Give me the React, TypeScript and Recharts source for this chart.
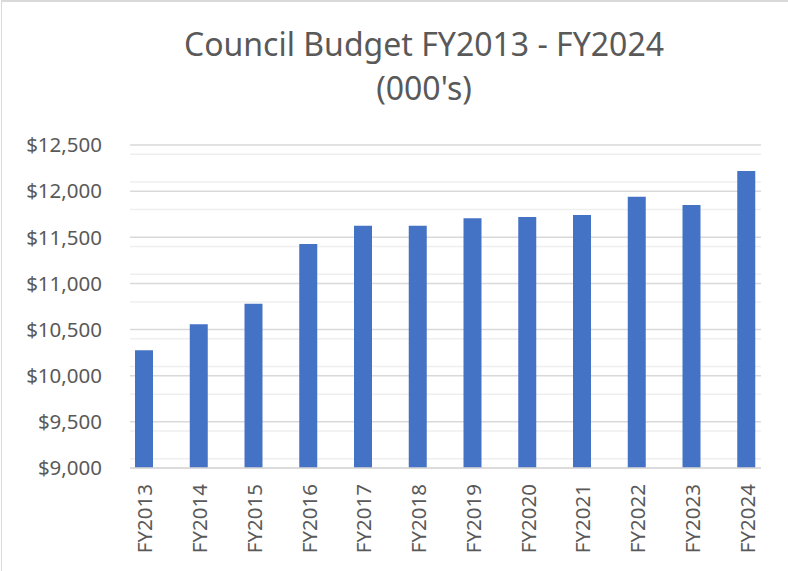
import React from "react";
import { BarChart, Bar, XAxis, YAxis, CartesianGrid } from "recharts";

const categories = ["FY2013", "FY2014", "FY2015", "FY2016", "FY2017", "FY2018", "FY2019", "FY2020", "FY2021", "FY2022", "FY2023", "FY2024"];
const budget = [10276, 10558, 10780, 11426, 11625, 11625, 11705, 11719, 11741, 11940, 11849, 12218];
const majorTicks = [9000, 9500, 10000, 10500, 11000, 11500, 12000, 12500];
const minorTicks = [9100, 9200, 9300, 9400, 9600, 9700, 9800, 9900, 10100, 10200, 10300, 10400, 10600, 10700, 10800, 10900, 11100, 11200, 11300, 11400, 11600, 11700, 11800, 11900, 12100, 12200, 12300, 12400];

const data = categories.map((c, i) => ({ name: c, value: budget[i] }));

const FONT = "'Noto Sans', 'Open Sans', sans-serif";
const TEXT = "#595959";

const fmt = (v: number) => "$" + v.toLocaleString("en-US");

const XTick = (props: any) => {
  const { x, y, payload } = props;
  const ty = y + 8;
  return (
    <text
      x={x}
      y={ty}
      transform={`rotate(-90 ${x} ${ty})`}
      textAnchor="end"
      dominantBaseline="central"
      fill={TEXT}
      fontSize={20.5}
      fontFamily={FONT}
    >
      {payload.value}
    </text>
  );
};

export default function App() {
  return (
    <div style={{ position: "absolute", left: 0, top: 0, width: 788, height: 571, background: "#fff", overflow: "hidden" }}>
      <div style={{ position: "absolute", left: 1, top: 0, width: 787, height: 571, borderTop: "2px solid #d9d9d9", borderLeft: "1px solid #d9d9d9", boxSizing: "border-box" }} />
      <div style={{ position: "absolute", left: 0, top: 22, width: 848, textAlign: "center", fontFamily: FONT, fontSize: 32, color: TEXT, lineHeight: "44px" }}>
        Council Budget FY2013 - FY2024
        <br />
        (000's)
      </div>
      <div style={{ position: "absolute", left: 0, top: 0 }}>
        <BarChart width={788} height={571} data={data} margin={{ top: 145, right: 27, bottom: 0, left: 0 }}>
          <CartesianGrid horizontal={true} vertical={false} stroke="#efefef" strokeWidth={1.5} horizontalValues={minorTicks} />
          <CartesianGrid horizontal={true} vertical={false} stroke="#d9d9d9" strokeWidth={1.5} horizontalValues={majorTicks} />
          <XAxis
            dataKey="name"
            height={103}
            padding={{ left: -13, right: -13 }}
            axisLine={{ stroke: "#d9d9d9", strokeWidth: 1.5 }}
            tickLine={false}
            tick={<XTick />}
            interval={0}
          />
          <YAxis
            width={130}
            domain={[9000, 12500]}
            ticks={majorTicks}
            axisLine={false}
            tickLine={false}
            tickSize={0}
            tickMargin={28}
            tickFormatter={fmt}
            tick={{ fill: TEXT, fontSize: 20.5, fontFamily: FONT }}
          />
          <Bar dataKey="value" fill="#4472c4" barSize={18} isAnimationActive={false} />
        </BarChart>
      </div>
    </div>
  );
}
